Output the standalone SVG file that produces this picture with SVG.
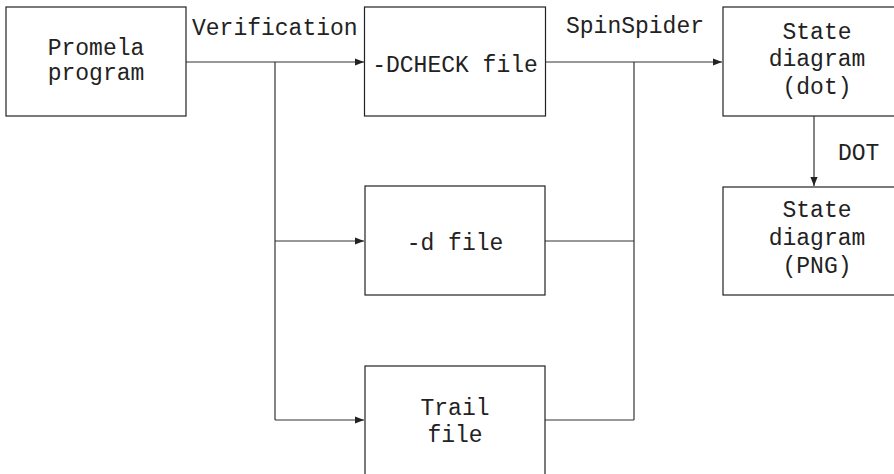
<svg xmlns="http://www.w3.org/2000/svg" width="894" height="474" viewBox="0 0 894 474">
<style>
.box{fill:#fff;stroke:#222;stroke-width:1.2}
.ln{fill:none;stroke:#333;stroke-width:1.2}
text{font-family:"Liberation Mono","DejaVu Sans Mono",monospace;font-size:23px;fill:#222}
.c{text-anchor:middle}
</style>
<defs>
<marker id="ah" viewBox="0 0 10 10" refX="10" refY="5" markerWidth="9" markerHeight="9" markerUnits="userSpaceOnUse" orient="auto">
<path d="M0,1 L10,5 L0,9 z" fill="#222"/>
</marker>
</defs>
<rect width="894" height="474" fill="#fff"/>
<g id="connectors">
<path class="ln" d="M186,62 H364" marker-end="url(#ah)"/>
<path class="ln" d="M275,62 V420"/>
<path class="ln" d="M275,241 H364" marker-end="url(#ah)"/>
<path class="ln" d="M275,420 H364" marker-end="url(#ah)"/>
<path class="ln" d="M545,62 H722" marker-end="url(#ah)"/>
<path class="ln" d="M634,62 V420"/>
<path class="ln" d="M545,241 H634"/>
<path class="ln" d="M545,420 H634"/>
<path class="ln" d="M814,116 V186" marker-end="url(#ah)"/>
<text x="192" y="35">Verification</text>
<text x="566" y="33">SpinSpider</text>
<text x="838" y="160">DOT</text>
</g>
<g id="promela">
<rect class="box" x="6" y="7" width="180" height="109"/>
<text class="c" x="96" y="55">Promela</text>
<text class="c" x="96" y="80">program</text>
</g>
<g id="dcheck">
<rect class="box" x="364.5" y="7" width="181" height="109"/>
<text class="c" x="455" y="72">-DCHECK file</text>
</g>
<g id="dfile">
<rect class="box" x="365" y="186" width="180" height="109"/>
<text class="c" x="455" y="250">-d file</text>
</g>
<g id="trail">
<rect class="box" x="365" y="366" width="180" height="120"/>
<text class="c" x="455" y="415">Trail</text>
<text class="c" x="455" y="442">file</text>
</g>
<g id="statedot">
<rect class="box" x="723" y="7" width="190" height="109"/>
<text class="c" x="817" y="39">State</text>
<text class="c" x="817" y="66">diagram</text>
<text class="c" x="817" y="94">(dot)</text>
</g>
<g id="statepng">
<rect class="box" x="723" y="187" width="190" height="108"/>
<text class="c" x="817" y="217">State</text>
<text class="c" x="817" y="245">diagram</text>
<text class="c" x="817" y="273">(PNG)</text>
</g>
</svg>
